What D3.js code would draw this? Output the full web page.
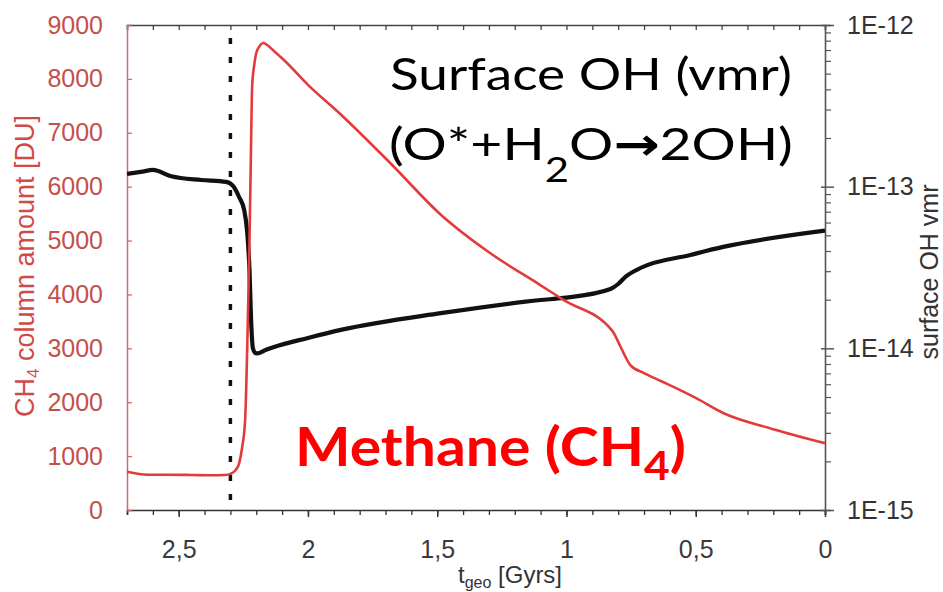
<!DOCTYPE html>
<html>
<head>
<meta charset="utf-8">
<script src="https://cdn.jsdelivr.net/npm/d3@7"></script>
<style>
  body { margin: 0; background: #fff; }
  svg { display: block; }
</style>
</head>
<body>
<script>
// CH4 column amount [DU] vs geological time [Gyrs]
const ch4Time = [2.70, 2.62, 2.55, 2.45, 2.38, 2.32, 2.30, 2.28, 2.266, 2.255, 2.243, 2.235, 2.227, 2.221, 2.216, 2.208, 2.200, 2.187, 2.174, 2.130, 2.093, 2.000, 1.873, 1.680, 1.486, 1.293, 1.100, 1.012, 0.822, 0.790, 0.753, 0.700, 0.633, 0.500, 0.394, 0.200, 0.000];
const ch4Values = [710, 655, 655, 650, 645, 650, 670, 740, 870, 1150, 1670, 3000, 4770, 6500, 7850, 8250, 8480, 8610, 8665, 8510, 8350, 7890, 7340, 6430, 5480, 4760, 4170, 3900, 3320, 3020, 2690, 2540, 2390, 2080, 1800, 1500, 1240];

// surface OH vmr vs geological time [Gyrs]
const ohTime = [2.700, 2.640, 2.600, 2.529, 2.413, 2.317, 2.290, 2.266, 2.247, 2.235, 2.226, 2.220, 2.213, 2.205, 2.197, 2.162, 2.131, 2.000, 1.873, 1.486, 1.100, 1.012, 0.830, 0.800, 0.772, 0.714, 0.521, 0.394, 0.000];
const ohValues = [1.20e-13, 1.24e-13, 1.27e-13, 1.16e-13, 1.10e-13, 1.07e-13, 1.01e-13, 8.6e-14, 7.2e-14, 5.2e-14, 3.0e-14, 1.5e-14, 1.0e-14, 9.4e-15, 9.3e-15, 9.8e-15, 1.02e-14, 1.16e-14, 1.30e-14, 1.65e-14, 1.99e-14, 2.05e-14, 2.33e-14, 2.5e-14, 2.77e-14, 3.14e-14, 3.78e-14, 4.24e-14, 5.35e-14];

const markerTime = 2.3;

// tick labels
const xTickValues = [2.5, 2, 1.5, 1, 0.5, 0];
const xTickLabels = ['2,5', '2', '1,5', '1', '0,5', '0'];
const leftTickValues = [0, 1000, 2000, 3000, 4000, 5000, 6000, 7000, 8000, 9000];
const rightTickValues = [1e-15, 1e-14, 1e-13, 1e-12];
const rightTickLabels = ['1E-15', '1E-14', '1E-13', '1E-12'];

const W = 943, H = 592;
const margin = { top: 25, right: 118, bottom: 82, left: 127 };
const pw = W - margin.left - margin.right;
const ph = H - margin.top - margin.bottom;

const tickFont = '"Liberation Sans", Arial, sans-serif';
const annoFont = 'Lato, "Open Sans", sans-serif';
const red = '#e23b3b';
const labelRed = '#c4504c';

const svg = d3.select('body')
    .append('svg')
    .attr('width', W)
    .attr('height', H);

const g = svg.append('g')
    .attr('transform', `translate(${margin.left},${margin.top})`);

// scales
const x = d3.scaleLinear().domain([2.7, 0]).range([0, pw]);
const yLeft = d3.scaleLinear().domain([0, 9000]).range([ph, 0]);
const yRight = d3.scaleLog().domain([1e-15, 1e-12]).range([ph, 0]);

const minorX = d3.range(0, 28).map(d => d / 10);

// clip for the curves
svg.append('defs').append('clipPath').attr('id', 'plot-clip')
    .append('rect').attr('width', pw).attr('height', ph);

// top axis: inward ticks, no labels
g.append('g')
    .call(d3.axisTop(x).tickValues(minorX).tickSize(-5).tickFormat(''))
    .call(a => a.select('.domain').attr('stroke', '#444').attr('stroke-width', 1.5))
    .call(a => a.selectAll('.tick line').attr('stroke', '#444').attr('stroke-width', 1.3));

// bottom axis: minor ticks
g.append('g')
    .attr('transform', `translate(0,${ph})`)
    .call(d3.axisBottom(x).tickValues(minorX).tickSize(5).tickFormat(''))
    .call(a => a.select('.domain').attr('stroke', '#333').attr('stroke-width', 1.6))
    .call(a => a.selectAll('.tick line').attr('stroke', '#333').attr('stroke-width', 1.3));

// bottom axis: labelled ticks
g.append('g')
    .attr('transform', `translate(0,${ph})`)
    .call(d3.axisBottom(x).tickValues(xTickValues).tickSize(7).tickPadding(23)
        .tickFormat((d, i) => xTickLabels[i]))
    .call(a => a.select('.domain').remove())
    .call(a => a.selectAll('.tick line').attr('stroke', '#333').attr('stroke-width', 1.5))
    .call(a => a.selectAll('.tick text')
        .attr('fill', '#3a3a3a')
        .attr('font-family', tickFont)
        .attr('font-size', 25));

// left axis (CH4)
g.append('g')
    .call(d3.axisLeft(yLeft).tickValues(leftTickValues).tickSize(-5).tickPadding(24)
        .tickFormat(d3.format('d')))
    .call(a => a.select('.domain').attr('stroke', '#cf6b6b').attr('stroke-width', 1.5))
    .call(a => a.selectAll('.tick line').attr('stroke', '#d46a6a').attr('stroke-width', 1.3))
    .call(a => a.selectAll('.tick text')
        .attr('fill', labelRed)
        .attr('font-family', tickFont)
        .attr('font-size', 25));

// right axis (OH, log)
const minorRight = [];
[-15, -14, -13].forEach(e => {
    for (let m = 2; m <= 9; m++) minorRight.push(m * Math.pow(10, e));
});

g.append('g')
    .attr('transform', `translate(${pw},0)`)
    .call(d3.axisRight(yRight).tickValues(minorRight).tickSize(6).tickFormat(''))
    .call(a => a.select('.domain').attr('stroke', '#555').attr('stroke-width', 1.6))
    .call(a => a.selectAll('.tick line').attr('stroke', '#555').attr('stroke-width', 1.2));

g.append('g')
    .attr('transform', `translate(${pw},0)`)
    .call(d3.axisRight(yRight).tickValues(rightTickValues).tickSize(9).tickPadding(13)
        .tickFormat((d, i) => rightTickLabels[i]))
    .call(a => a.select('.domain').remove())
    .call(a => a.selectAll('.tick line').attr('x1', -4).attr('stroke', '#555').attr('stroke-width', 1.5))
    .call(a => a.selectAll('.tick text')
        .attr('fill', '#333')
        .attr('font-family', tickFont)
        .attr('font-size', 25));

// dotted marker line
g.append('line')
    .attr('x1', x(markerTime)).attr('x2', x(markerTime))
    .attr('y1', 13).attr('y2', ph)
    .attr('stroke', '#111')
    .attr('stroke-width', 3.5)
    .attr('stroke-dasharray', '6 13');

// curves
const plot = g.append('g').attr('clip-path', 'url(#plot-clip)');

const ch4Line = d3.line()
    .x((d, i) => x(ch4Time[i]))
    .y(d => yLeft(d))
    .curve(d3.curveMonotoneX);

const ohLine = d3.line()
    .x((d, i) => x(ohTime[i]))
    .y(d => yRight(d))
    .curve(d3.curveMonotoneX);

plot.append('path')
    .datum(ohValues)
    .attr('d', ohLine)
    .attr('fill', 'none')
    .attr('stroke', '#111')
    .attr('stroke-width', 4.2)
    .attr('stroke-linejoin', 'round');

plot.append('path')
    .datum(ch4Values)
    .attr('d', ch4Line)
    .attr('fill', 'none')
    .attr('stroke', red)
    .attr('stroke-width', 2.6)
    .attr('stroke-linejoin', 'round');

// axis titles
const leftTitle = svg.append('text')
    .attr('transform', 'translate(34,266) rotate(-90)')
    .attr('text-anchor', 'middle')
    .attr('fill', '#d24a48')
    .attr('font-family', tickFont)
    .attr('font-size', 27);
leftTitle.append('tspan').text('CH');
leftTitle.append('tspan').attr('font-size', 17).attr('dy', 5).text('4');
leftTitle.append('tspan').attr('dy', -5).text(' column amount [DU]');

svg.append('text')
    .attr('transform', 'translate(938,272) rotate(-90)')
    .attr('text-anchor', 'middle')
    .attr('fill', '#333')
    .attr('font-family', tickFont)
    .attr('font-size', 25)
    .text('surface OH vmr');

const xTitle = svg.append('text')
    .attr('x', 458)
    .attr('y', 583)
    .attr('fill', '#333')
    .attr('font-family', tickFont)
    .attr('font-size', 24);
xTitle.append('tspan').text('t');
xTitle.append('tspan').attr('font-size', 16).attr('dy', 5).text('geo');
xTitle.append('tspan').attr('dy', -5).text(' [Gyrs]');

// stretch a text horizontally so it spans the given width from its left edge
function fitWidth(sel, left, width) {
    const b = sel.node().getBBox();
    const s = width / b.width;
    sel.attr('transform', `translate(${left},0) scale(${s},1) translate(${-b.x},0)`);
}

// annotations
const anno1 = svg.append('text')
    .attr('x', 0).attr('y', 90)
    .attr('fill', '#000')
    .attr('font-family', annoFont)
    .attr('font-size', 45)
    .text('Surface OH (vmr)');
fitWidth(anno1, 390, 402);

const anno2 = svg.append('text')
    .attr('x', 0).attr('y', 160)
    .attr('fill', '#000')
    .attr('font-family', annoFont)
    .attr('font-size', 45);
anno2.append('tspan').text('(O*+H');
anno2.append('tspan').attr('font-size', 34).attr('dy', 22).text('2');
anno2.append('tspan').attr('dy', -22).text('O');
anno2.append('tspan').attr('font-family', '"DejaVu Sans", sans-serif').attr('font-weight', 'bold').text('\u2192');
anno2.append('tspan').text('2OH)');
fitWidth(anno2, 389, 404);

const anno3 = svg.append('text')
    .attr('x', 0).attr('y', 466)
    .attr('fill', '#ff0000')
    .attr('font-family', annoFont)
    .attr('font-weight', 'bold')
    .attr('font-size', 53);
anno3.append('tspan').text('Methane (CH');
anno3.append('tspan').attr('font-size', 40).attr('dy', 14).text('4');
anno3.append('tspan').attr('dy', -14).text(')');
fitWidth(anno3, 295, 391);
</script>
</body>
</html>
